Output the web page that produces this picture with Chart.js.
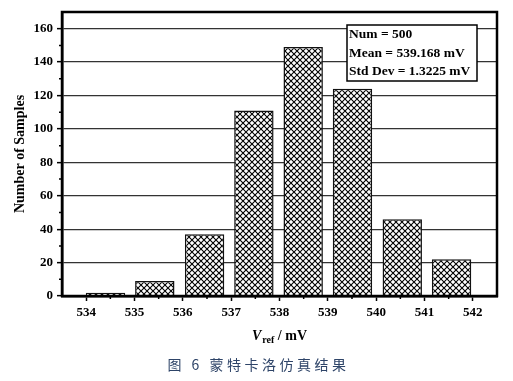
<!DOCTYPE html>
<html>
<head>
<meta charset="utf-8">
<script src="https://cdn.jsdelivr.net/npm/chart.js"></script>
<style>
html, body { margin: 0; padding: 0; background: #fff; }
#wrap { width: 513px; height: 381px; }
</style>
</head>
<body>
<div id="wrap"><canvas id="histChart"></canvas></div>
<script>
// histogram bins (bar centres) and counts
var binCenters = [534.40, 535.42, 536.45, 537.47, 538.49, 539.51, 540.54, 541.56];
var counts = [2, 9, 37, 111, 149, 124, 46, 22];
var xTicks = [534, 535, 536, 537, 538, 539, 540, 541, 542];
var yTicks = [0, 20, 40, 60, 80, 100, 120, 140, 160];
var statsLines = ['Num = 500', 'Mean = 539.168 mV', 'Std Dev = 1.3225 mV'];
var yTitle = 'Number of Samples';
var caption = '图 6 蒙特卡洛仿真结果';

Chart.defaults.font.family = "'Liberation Serif', 'Times New Roman', serif";
Chart.defaults.color = '#000';

function makeHatch() {
    var c = document.createElement('canvas');
    c.width = 6; c.height = 6;
    var g = c.getContext('2d');
    g.fillStyle = '#fff';
    g.fillRect(0, 0, 6, 6);
    g.strokeStyle = '#000';
    g.lineWidth = 1.1;
    g.beginPath();
    g.moveTo(-1, -1); g.lineTo(7, 7);
    g.moveTo(7, -1); g.lineTo(-1, 7);
    g.stroke();
    return g.createPattern(c, 'repeat');
}

var extras = {
    id: 'extras',
    afterDatasetsDraw: function (chart) {
        var ctx = chart.ctx, a = chart.chartArea;
        ctx.save();
        // stats box
        var bw = 130, bh = 56;
        var bx = a.right - 20 - bw, by = a.top + 13;
        ctx.fillStyle = '#fff';
        ctx.fillRect(bx, by, bw, bh);
        ctx.strokeStyle = '#000';
        ctx.lineWidth = 1.5;
        ctx.strokeRect(bx, by, bw, bh);
        ctx.fillStyle = '#000';
        ctx.font = "bold 13.5px 'Liberation Serif'";
        ctx.textBaseline = 'middle';
        ctx.textAlign = 'left';
        for (var i = 0; i < statsLines.length; i++) {
            ctx.fillText(statsLines[i], bx + 2, by + 10 + i * 18.3);
        }
        ctx.restore();
    },
    afterDraw: function (chart) {
        var ctx = chart.ctx, a = chart.chartArea;
        var xs = chart.scales.x, ys = chart.scales.y;
        ctx.save();
        // frame
        ctx.strokeStyle = '#000';
        ctx.lineWidth = 2.5;
        ctx.strokeRect(a.left, a.top, a.right - a.left, a.bottom - a.top);
        // minor ticks
        ctx.lineWidth = 1.5;
        ctx.beginPath();
        for (var i = 0; i < xTicks.length - 1; i++) {
            var px = xs.getPixelForValue((xTicks[i] + xTicks[i + 1]) / 2);
            ctx.moveTo(px, a.bottom); ctx.lineTo(px, a.bottom + 3);
        }
        for (var j = 0; j < yTicks.length; j++) {
            var py = ys.getPixelForValue(yTicks[j] + 10);
            if (py > a.top + 2) {
                ctx.moveTo(a.left, py); ctx.lineTo(a.left - 3, py);
            }
        }
        ctx.stroke();

        // x title: V_ref / mV
        var cx = (a.left + a.right) / 2, base = a.bottom + 44;
        var f1 = "italic bold 14px 'Liberation Serif'";
        var f2 = "bold 10px 'Liberation Serif'";
        var f3 = "bold 14px 'Liberation Serif'";
        ctx.textBaseline = 'alphabetic';
        ctx.textAlign = 'left';
        ctx.font = f1; var w1 = ctx.measureText('V').width;
        ctx.font = f2; var w2 = ctx.measureText('ref').width;
        ctx.font = f3; var w3 = ctx.measureText(' / mV').width;
        var x0 = cx - (w1 + w2 + 1 + w3) / 2;
        ctx.fillStyle = '#000';
        ctx.font = f1; ctx.fillText('V', x0, base);
        ctx.font = f2; ctx.fillText('ref', x0 + w1 + 1, base + 3);
        ctx.font = f3; ctx.fillText(' / mV', x0 + w1 + 1 + w2, base);

        // caption
        ctx.font = "14px 'Noto Sans CJK SC'";
        ctx.fillStyle = '#2e4468';
        ctx.textBaseline = 'middle';
        ctx.textAlign = 'center';
        ctx.letterSpacing = '3.5px';
        ctx.fillText(caption, chart.width / 2 + 2, chart.height - 16);
        ctx.restore();
    }
};

var ctx = document.getElementById('histChart').getContext('2d');

var histChart = new Chart(ctx, {
    type: 'bar',
    data: {
        datasets: [{
            data: binCenters.map(function (x, i) { return { x: x, y: counts[i] }; }),
            backgroundColor: makeHatch(),
            borderColor: '#111',
            borderWidth: 1.5,
            borderSkipped: 'bottom',
            barPercentage: 0.815,
            categoryPercentage: 1
        }]
    },
    options: {
        responsive: true,
        maintainAspectRatio: false,
        animation: false,
        layout: {
            padding: { top: 12, right: 16, left: 0, bottom: 0 }
        },
        plugins: {
            legend: { display: false },
            tooltip: { enabled: false }
        },
        scales: {
            x: {
                type: 'linear',
                min: 533.5,
                max: 542.5,
                offset: false,
                afterBuildTicks: function (s) {
                    s.ticks = xTicks.map(function (v) { return { value: v }; });
                },
                afterFit: function (s) { s.height = 85; },
                grid: {
                    offset: false,
                    drawOnChartArea: false,
                    tickLength: 5,
                    tickWidth: 1.5,
                    tickColor: '#000'
                },
                border: { color: '#000', width: 2.5 },
                ticks: {
                    color: '#000',
                    font: { size: 13, weight: 'bold' },
                    padding: 4,
                    maxRotation: 0,
                    autoSkip: false
                }
            },
            y: {
                min: 0,
                max: 170,
                afterBuildTicks: function (s) {
                    s.ticks = yTicks.map(function (v) { return { value: v }; });
                },
                afterFit: function (s) { s.width = 62; },
                grid: {
                    color: '#333',
                    lineWidth: 1.3,
                    tickLength: 5,
                    tickWidth: 1.5,
                    tickColor: '#000'
                },
                border: { color: '#000', width: 2.5 },
                ticks: {
                    color: '#000',
                    font: { size: 13, weight: 'bold' },
                    padding: 4
                },
                title: {
                    display: true,
                    text: yTitle,
                    color: '#000',
                    font: { size: 14, weight: 'bold' },
                    padding: 12
                }
            }
        }
    },
    plugins: [extras]
});
</script>
</body>
</html>
